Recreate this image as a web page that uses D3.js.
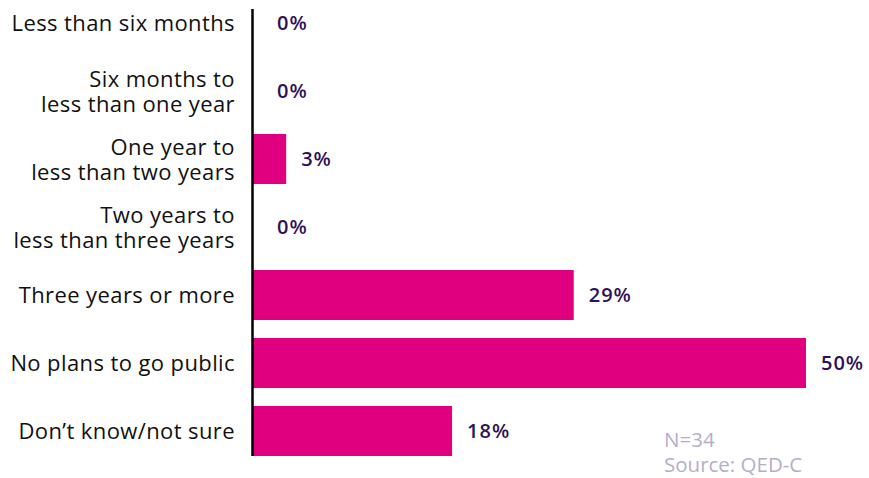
<!DOCTYPE html>
<html>
<head>
<meta charset="utf-8">
<script src="https://cdn.jsdelivr.net/npm/d3@7"></script>
<style>
  html, body { margin: 0; padding: 0; background: #ffffff; }
  svg { display: block; }
</style>
</head>
<body>
<svg id="chart" width="869" height="478"></svg>
<script>
const categories = [
  ["Less than six months"],
  ["Six months to", "less than one year"],
  ["One year to", "less than two years"],
  ["Two years to", "less than three years"],
  ["Three years or more"],
  ["No plans to go public"],
  ["Don\u2019t know/not sure"]
];
const values = [0, 0, 3, 0, 29, 50, 18];
const valueLabels = ["0%", "0%", "3%", "0%", "29%", "50%", "18%"];
const notes = ["N=34", "Source: QED-C"];

const svg = d3.select("#chart");
const font = "'Open Sans', 'Noto Sans', sans-serif";

const x = d3.scaleLinear().domain([0, 50]).range([253, 806]);
const y = d3.scaleBand()
  .domain(d3.range(categories.length))
  .range([-11, 465])
  .paddingInner(18 / 68)
  .paddingOuter(9 / 68);

// bars
svg.append("g").selectAll("rect")
  .data(values)
  .join("rect")
  .attr("x", x(0))
  .attr("y", (d, i) => y(i))
  .attr("width", d => x(d) - x(0))
  .attr("height", y.bandwidth())
  .attr("fill", "#e0007f");

// axis line
svg.append("line")
  .attr("x1", 252.5).attr("x2", 252.5)
  .attr("y1", 9).attr("y2", 456)
  .attr("stroke", "#000").attr("stroke-width", 2.5);

// category labels (one text element per line)
const lh = 25;
const labelLines = [];
categories.forEach((lines, i) => {
  const cy = y(i) + y.bandwidth() / 2;
  const start = cy - (lines.length - 1) * lh / 2 + 8;
  lines.forEach((t, k) => labelLines.push({ t, yy: start + k * lh }));
});
svg.append("g").selectAll("text")
  .data(labelLines)
  .join("text")
  .attr("text-anchor", "end")
  .attr("x", 235)
  .attr("y", d => d.yy)
  .attr("font-family", font)
  .attr("font-size", 22)
  .attr("letter-spacing", 0.4)
  .attr("fill", "#111")
  .text(d => d.t);

// value labels
svg.append("g").selectAll("text")
  .data(values)
  .join("text")
  .attr("x", d => Math.max(x(d) + 15, x(0) + 24))
  .attr("y", (d, i) => y(i) + y.bandwidth() / 2 + 7)
  .attr("font-family", font)
  .attr("font-size", 20)
  .attr("font-weight", 600)
  .attr("letter-spacing", 1)
  .attr("fill", "#2e1157")
  .text((d, i) => valueLabels[i]);

// notes
svg.append("g").selectAll("text")
  .data(notes)
  .join("text")
  .attr("x", 664)
  .attr("y", (d, i) => 447 + i * 25)
  .attr("font-family", font)
  .attr("font-size", 20.5)
  .attr("fill", "#b6aec8")
  .text(d => d);
</script>
</body>
</html>
